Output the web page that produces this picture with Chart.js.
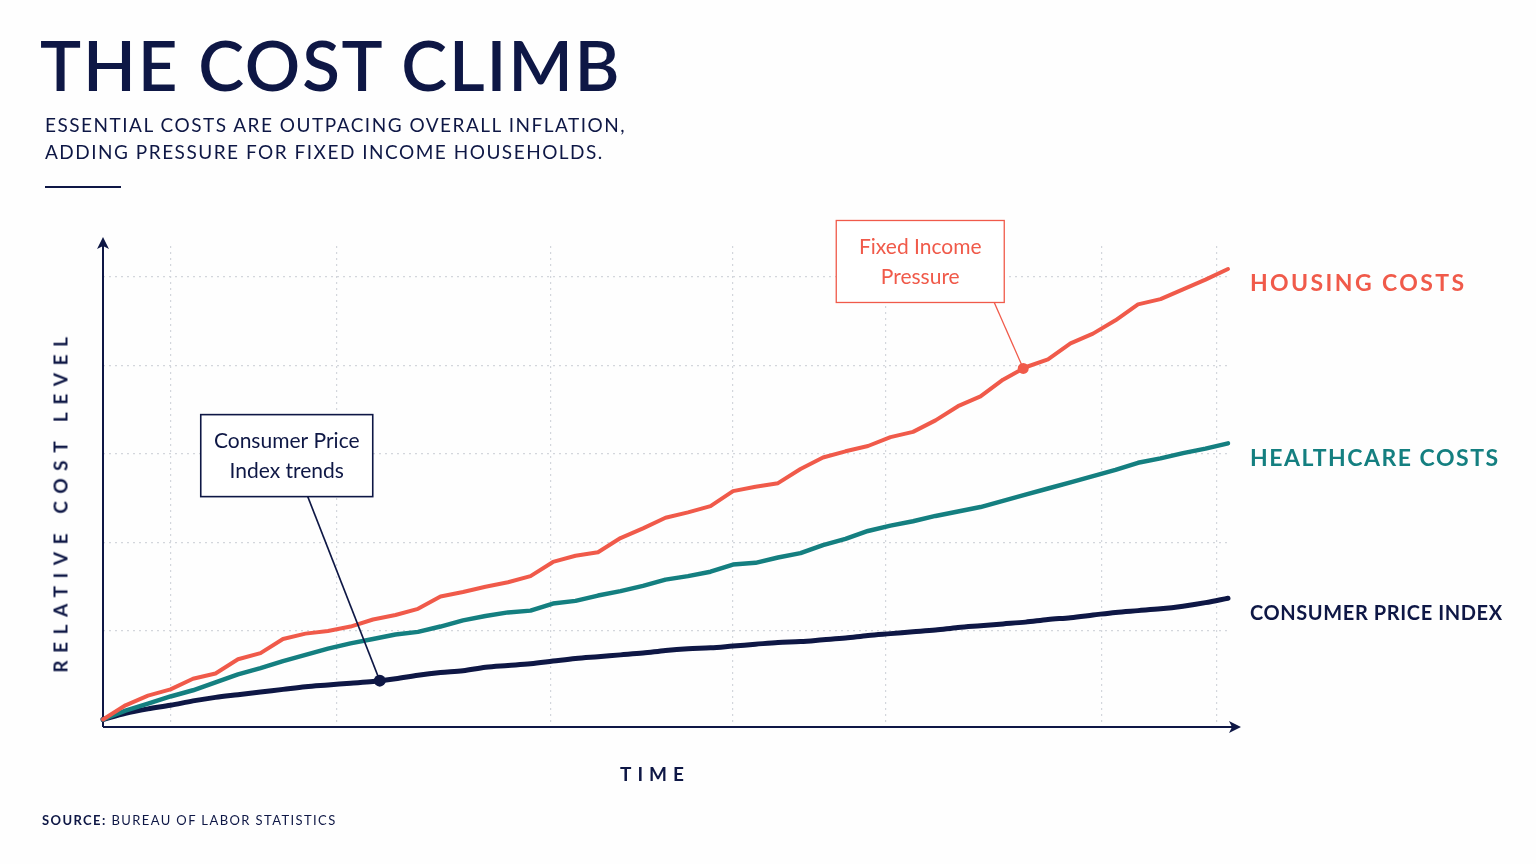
<!DOCTYPE html>
<html>
<head>
<meta charset="utf-8">
<title>The Cost Climb</title>
<script src="https://cdn.jsdelivr.net/npm/chart.js@4.4.1/dist/chart.umd.min.js"></script>
<style>
  html, body { margin: 0; padding: 0; background: #fefefe; }
  body { width: 1536px; height: 864px; position: relative; overflow: hidden; font-family: Lato, "Noto Sans", sans-serif; color: #0e1745; }
  #chart { position: absolute; left: 0; top: 0; }
  .title { position: absolute; left: 40px; top: 30px; font-size: 69px; font-weight: 600; letter-spacing: 1.8px; line-height: 1; white-space: nowrap; }
  .subtitle { position: absolute; left: 45px; top: 111px; font-size: 19px; letter-spacing: 1.5px; line-height: 27px; white-space: nowrap; }
  .rule { position: absolute; left: 45px; top: 186px; width: 76px; height: 2px; background: #0e1745; }
  .ytitle { position: absolute; left: 60px; top: 501px; transform: translate(-50%, -50%) rotate(-90deg); font-size: 19px; font-weight: 700; letter-spacing: 7.6px; white-space: nowrap; }
  .xtitle { position: absolute; left: 655px; top: 773px; transform: translate(-50%, -50%); font-size: 19px; font-weight: 700; letter-spacing: 6px; white-space: nowrap; }
  .source { position: absolute; left: 42px; top: 812px; font-size: 13px; letter-spacing: 1.4px; white-space: nowrap; }
  .source b { font-weight: 700; }
</style>
</head>
<body>
<canvas id="chart" width="1536" height="864"></canvas>
<div class="title">THE COST CLIMB</div>
<div class="subtitle">ESSENTIAL COSTS ARE OUTPACING OVERALL INFLATION,<br>ADDING PRESSURE FOR FIXED INCOME HOUSEHOLDS.</div>
<div class="rule"></div>
<div class="ytitle">RELATIVE COST LEVEL</div>
<div class="xtitle">TIME</div>
<div class="source"><b>SOURCE:</b> BUREAU OF LABOR STATISTICS</div>

<script>
// time steps (no labels on the axis)
const periods = Array.from({ length: 51 }, (_, i) => i);

// relative cost level, start = 100
const housing = [100, 101.6, 102.7, 103.4, 104.6, 105.2, 106.8, 107.5, 109.1, 109.7,
  110.0, 110.5, 111.3, 111.8, 112.5, 113.9, 114.4, 115.0, 115.5, 116.2,
  117.8, 118.5, 118.9, 120.5, 121.6, 122.8, 123.4, 124.1, 125.8, 126.3,
  126.7, 128.3, 129.6, 130.3, 130.9, 131.9, 132.5, 133.8, 135.4, 136.5,
  138.4, 139.8, 140.7, 142.5, 143.6, 145.1, 146.9, 147.5, 148.6, 149.7,
  150.9];
const healthcare = [100, 101.0, 101.8, 102.6, 103.3, 104.2, 105.1, 105.8, 106.6, 107.3,
  108.0, 108.6, 109.1, 109.6, 109.9, 110.5, 111.2, 111.7, 112.1, 112.3,
  113.1, 113.4, 114.0, 114.5, 115.1, 115.8, 116.2, 116.7, 117.5, 117.7,
  118.3, 118.8, 119.7, 120.4, 121.3, 121.9, 122.4, 123.0, 123.5, 124.0,
  124.7, 125.4, 126.1, 126.8, 127.5, 128.2, 129.0, 129.5, 130.1, 130.6,
  131.2];
const cpi = [100, 100.7, 101.2, 101.6, 102.1, 102.5, 102.8, 103.1, 103.4, 103.7,
  103.9, 104.1, 104.3, 104.6, 105.0, 105.3, 105.5, 105.9, 106.1, 106.3,
  106.6, 106.9, 107.1, 107.3, 107.5, 107.8, 108.0, 108.1, 108.3, 108.5,
  108.7, 108.8, 109.0, 109.2, 109.5, 109.7, 109.9, 110.1, 110.4, 110.6,
  110.8, 111.0, 111.3, 111.5, 111.8, 112.1, 112.3, 112.5, 112.8, 113.2,
  113.7];

const seriesNames = ['HOUSING COSTS', 'HEALTHCARE COSTS', 'CONSUMER PRICE INDEX'];

// grid positions
const gridX = [3, 10.4, 19.9, 28, 34.8, 44.4, 49.5];
const gridY = [110, 120, 130, 140, 150];

const NAVY = '#0e1745';
const TEAL = '#147f80';
const RED = '#f05a4a';

const toPoints = arr => arr.map((v, i) => ({ x: periods[i], y: v }));

function valueAt(arr, t) {
  const i = Math.floor(t);
  const f = t - i;
  if (i >= arr.length - 1) return arr[arr.length - 1];
  return arr[i] + (arr[i + 1] - arr[i]) * f;
}

// callouts
const notes = [
  { data: cpi, at: 12.3, lines: ['Consumer Price', 'Index trends'], color: NAVY,
    dx: -179, dy: -266, w: 172, h: 82, leadX: 107, r: 6, lw: 1.6 },
  { data: housing, at: 40.9, lines: ['Fixed Income', 'Pressure'], color: RED,
    dx: -187, dy: -148, w: 168, h: 82, leadX: 158, r: 5.5, lw: 1.3 }
];

const axesPlugin = {
  id: 'axes',
  beforeDatasetsDraw(chart) {
    const { ctx, chartArea: a } = chart;
    ctx.save();
    ctx.strokeStyle = NAVY;
    ctx.fillStyle = NAVY;
    ctx.lineWidth = 2;
    // y axis
    ctx.beginPath();
    ctx.moveTo(a.left, a.bottom);
    ctx.lineTo(a.left, a.top - 2);
    ctx.stroke();
    ctx.beginPath();
    ctx.moveTo(a.left, a.top - 9);
    ctx.lineTo(a.left - 6, a.top + 3);
    ctx.lineTo(a.left, a.top);
    ctx.lineTo(a.left + 6, a.top + 3);
    ctx.closePath();
    ctx.fill();
    // x axis
    ctx.beginPath();
    ctx.moveTo(a.left, a.bottom);
    ctx.lineTo(a.right + 8, a.bottom);
    ctx.stroke();
    ctx.beginPath();
    ctx.moveTo(a.right + 13, a.bottom);
    ctx.lineTo(a.right + 1, a.bottom - 6);
    ctx.lineTo(a.right + 4, a.bottom);
    ctx.lineTo(a.right + 1, a.bottom + 6);
    ctx.closePath();
    ctx.fill();
    ctx.restore();
  },
  afterDatasetsDraw(chart) {
    const { ctx, chartArea: a } = chart;
    const xs = chart.scales.x, ys = chart.scales.y;
    ctx.save();

    // end labels
    const ends = [
      { arr: housing, color: RED, font: '700 23px Lato', ls: '2.4px' },
      { arr: healthcare, color: TEAL, font: '700 23px Lato', ls: '1.5px' },
      { arr: cpi, color: NAVY, font: '700 20px Lato', ls: '0.6px' }
    ];
    ends.forEach((e, k) => {
      ctx.fillStyle = e.color;
      ctx.font = e.font;
      ctx.letterSpacing = e.ls;
      ctx.textBaseline = 'middle';
      ctx.textAlign = 'left';
      ctx.fillText(seriesNames[k], a.right + 22, ys.getPixelForValue(e.arr[e.arr.length - 1]) + 15);
    });
    ctx.letterSpacing = '0px';

    // callouts
    notes.forEach(n => {
      const px = xs.getPixelForValue(n.at);
      const py = ys.getPixelForValue(valueAt(n.data, n.at));
      const bx = px + n.dx, by = py + n.dy;
      ctx.strokeStyle = n.color;
      ctx.lineWidth = n.lw;
      ctx.beginPath();
      ctx.moveTo(bx + n.leadX, by + n.h);
      ctx.lineTo(px, py);
      ctx.stroke();
      ctx.fillStyle = '#ffffff';
      ctx.fillRect(bx, by, n.w, n.h);
      ctx.strokeRect(bx, by, n.w, n.h);
      ctx.fillStyle = n.color;
      ctx.beginPath();
      ctx.arc(px, py, n.r, 0, Math.PI * 2);
      ctx.fill();
      ctx.font = '400 21px Lato';
      ctx.textAlign = 'center';
      ctx.textBaseline = 'middle';
      n.lines.forEach((t, j) => ctx.fillText(t, bx + n.w / 2, by + 27 + j * 30));
    });
    ctx.restore();
  }
};

new Chart(document.getElementById('chart'), {
  type: 'line',
  data: {
    datasets: [
      { label: seriesNames[0], data: toPoints(housing), borderColor: RED, borderWidth: 4 },
      { label: seriesNames[1], data: toPoints(healthcare), borderColor: TEAL, borderWidth: 4.5 },
      { label: seriesNames[2], data: toPoints(cpi), borderColor: NAVY, borderWidth: 5, cubicInterpolationMode: 'monotone' }
    ].map(d => Object.assign(d, {
      pointRadius: 0, tension: 0, clip: false, fill: false,
      borderJoinStyle: 'round', borderCapStyle: 'round'
    }))
  },
  options: {
    responsive: false,
    animation: false,
    events: [],
    layout: { padding: { left: 103, right: 308, top: 246, bottom: 137 } },
    plugins: { legend: { display: false }, tooltip: { enabled: false } },
    scales: {
      x: {
        type: 'linear', min: 0, max: 50,
        ticks: { display: false },
        grid: { color: '#d3d6dc', lineWidth: 1.2, drawTicks: false },
        border: { display: false, dash: [2, 4] },
        afterBuildTicks: s => { s.ticks = gridX.map(v => ({ value: v })); }
      },
      y: {
        type: 'linear', min: 99.15, max: 153.5,
        ticks: { display: false },
        grid: { color: '#d3d6dc', lineWidth: 1.2, drawTicks: false },
        border: { display: false, dash: [2, 4] },
        afterBuildTicks: s => { s.ticks = gridY.map(v => ({ value: v })); }
      }
    }
  },
  plugins: [axesPlugin]
});
</script>
</body>
</html>
